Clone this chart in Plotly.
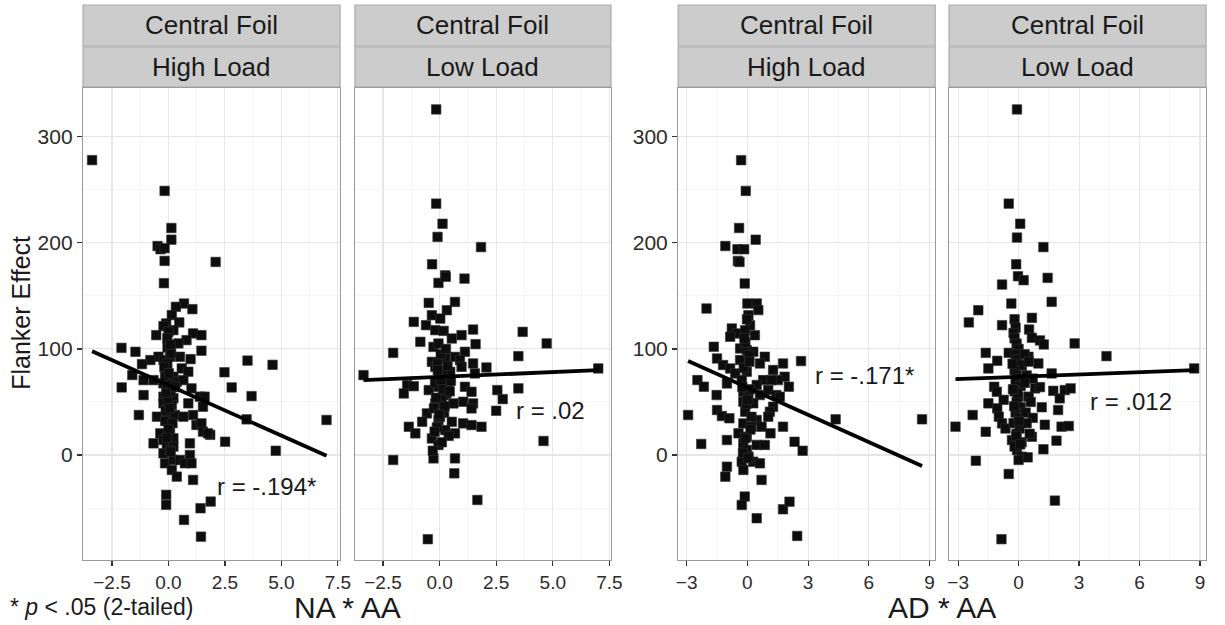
import plotly.graph_objects as go

# ---------------- data ----------------
strip_top = ["Central Foil", "Central Foil", "Central Foil", "Central Foil"]
strip_bottom = ["High Load", "Low Load", "High Load", "Low Load"]

# Panel 1: NA * AA, High Load
p1_x = [-3.38, -0.17, 0.13, 0.13, -0.48, -0.35, -0.17, -0.17, 2.09, -0.2, -2.08, -2.07, 3.5, 4.61,
        2.48, 2.8, 3.68, 3.46, 2.51, 4.75, 7.0, 1.44, 1.85,
        0.69, 0.33, 1.06, 0.15, 0.48, -0.1, -0.22, 0.22, -0.54, 0.0, 1.09, 1.46, 0.8, 0.44, 1.46, -1.46,
        -0.04, 0.51, -0.44, -0.8, -0.22, 0.07, 0.98, -1.17, 0.59, 0.88, -0.07, 0.22, -1.6, -1.1, -0.66,
        -0.22, 0.37, 0.66, 1.02, -0.07, -1.1, -0.22, 0.22, 1.39, 1.6, -0.22, 0.15, 0.88, 1.53, -1.31,
        -0.51, -0.07, 0.29, 0.66, 1.09, 1.24, 1.46, 1.53, 1.75, -0.36, 0.07, -0.22, 0.22, -0.66, -0.07,
        0.22, 0.95, -0.22, 0.07, -0.15, 0.22, 0.51, 0.73, 0.95, 1.02, 0.15, 0.37, 1.09, -0.1, -0.1,
        1.87, 1.42, 0.69, -0.05, 0.1, -0.12, 0.05, -0.15, 0.12,
        -0.05, 0.08, -0.18, 0.02, 0.12, -0.1, 0.3, -0.02, 0.06, -0.14, 0.18, 0.0, -0.08, 0.1]
p1_y = [278, 249, 214, 203, 197, 194, 195, 183, 182, 162, 101, 63.7, 89, 85,
        78, 63.7, 55.5, 33.6, 12.5, 4, 33, -77, 19,
        142.8, 139.7, 137.5, 131.9, 125, 124, 121.5, 117.7, 113, 116.2, 114.6, 113, 108.3, 105.2, 98.3, 97.3,
        101.4, 92.6, 92.6, 89.5, 89.5, 92.6, 90.4, 85.7, 81.6, 78.5, 80.1, 73.8, 75.4, 70.6, 70.6,
        67.5, 69.1, 70.6, 62.8, 61.2, 56.5, 55, 53.4, 55, 55, 48.7, 47.1, 48.7, 45.5, 37.7,
        36.1, 36.1, 37.7, 36.1, 37.7, 28.3, 29.8, 22, 20.4, 20.4, 20.4, 14.2, 15.7, 11, 9.5,
        7.9, 11, 1.6, 4.7, -7.8, -4.7, -4.7, -7.8, 0, -7.8, -14.1, -20.4, -23.5, -37.6, -47,
        -43.9, -50.2, -61.2, 86, 60, 42, 26, 74, 96,
        110, 104, 83, 77, 66, 58, 64, 50, 44, 32, 30, 24, 16, 3]

# Panel 2: NA * AA, Low Load
p2_x = [1.83, -0.33, 0.25, -0.05, 1.1, -0.48, 0.68, 0.32, -0.34, 0.03, -1.14, -0.6, -0.19, 0.18,
        0.54, 0.97, 1.48, -0.85, -0.27, -0.05, 1.59, 1.12, 0.68, 0.25, -0.34, 0.9, 1.48, 2.07, -0.19,
        0.47, 0.97, 1.56, -1.43, -1.14, -1.58, -0.48, -0.05, 0.39, 1.12, 1.41, 0.18, 0.61, 1.04, 1.48,
        1.41, -0.19, -0.56, -0.77, -1.36, -1.07, -0.05, 0.54, 1.04, 1.41, 1.85, 0.25, 0.68, -0.34, -0.05,
        -0.27, 0.68, 0.65, 1.67,
        -0.15, -0.15, 0.13, -0.09, 0.27, 3.67, 4.73, -2.05, 3.48, -3.36, 7.01, 3.48, 2.55, 2.79, 2.5,
        4.59, -2.05, -0.52, 0.05, -0.1, 0.12, 0.0, -0.2, 0.3, 0.1, -0.25, 0.2, 0.02, -0.12, 0.4, -0.3,
        -0.08, 0.06, 0.15, -0.16, 0.35, 0.5, 0.22, -0.02, 0.1, -0.22, 0.28, 0.45]
p2_y = [196, 179.8, 169.4, 162.2, 166.3, 143.4, 144.3, 136.5, 131.8, 128.6, 125.5, 122.4, 117.7, 117,
        109.8, 113, 118.3, 106.7, 101.9, 105.1, 104.5, 97.3, 92.5, 91, 87.8, 89.4, 86.3, 82.5, 83.1,
        78.4, 83.1, 76.9, 65.9, 64.9, 58, 61.2, 64.3, 67.4, 64.3, 59.6, 56.4, 48.6, 50.2, 48.6,
        43.9, 48.6, 39.2, 31.3, 26.6, 20.4, 32.9, 31.3, 29.8, 28.2, 26.6, 23.5, 20.4, 15.6, 9.4,
        -3.2, -3.2, -17.3, -42.4,
        325.8, 237, 218, 205.6, 168, 116.1, 105.2, 96.3, 93.2, 75.3, 81.6, 62.8, 61.2, 52.7, 41.7,
        13.2, -4.7, -79.4, 95, 86, 76, 72, 68, 58, 52, 44, 40, 36, 26, 18, 4,
        80, 70, 62, 54, 84, 70, 46, 38, 12, 22, 100, 60]

# Panel 3: AD * AA, High Load
p3_x = [-0.31, -0.08, -0.41, 0.41, -1.09, -0.49, -0.16, -0.47, -0.39, -2.93, 2.33, 2.73, 2.65, 4.36,
        8.63, 2.46,
        -0.13, -2.02, 0.0, 0.46, 0.54, 0.05, -0.77, -0.52, -0.85, 0.13, -0.11, 0.37, -0.36, -0.03, 0.29,
        -1.66, 0.86, -1.5, -1.2, -0.36, 0.62, 1.76, -0.85, -0.6, -0.03, 1.27, 1.84, 1.51, -2.47, -2.15,
        -1.01, -0.28, 0.78, 1.19, 2.05, 0.46, -1.52, -0.2, 0.05, 0.62, 1.03, 1.43, 1.6, -0.2, 0.29, 1.27,
        -1.5, -1.26, -0.89, -0.11, 1.11, 0.46, -0.2, 1.03, 1.76, 0.21, 0.7, -0.44, -0.03, 1.14, -1.01,
        -2.28, -0.2, 0.46, 0.86, -0.03, 0.05, -0.28, 0.29, 0.62, -1.01, -0.2, -1.09, 0.7, -0.13, -0.28,
        1.76, 2.08, 0.46, -0.1, 0.08, -0.18, 0.12, -0.05, 0.15, -0.22,
        -0.02, -0.15, 0.1, -0.25, 0.0, 0.2, -0.1, 0.05]
p3_y = [278, 249, 214, 203, 197, 194, 194, 183, 182, 37.7, 12.5, 4, 88.5, 33.6,
        33.6, -76.3,
        161.7, 138.1, 142.8, 142.8, 136.6, 131.8, 119.3, 114.6, 111.5, 122.4, 117.7, 113, 100.5, 98.9, 97.3,
        102, 92.6, 91, 84.8, 89.5, 86.3, 86.3, 81.6, 76.9, 78.5, 80.1, 73.8, 70.6, 70.6, 64.4,
        67.5, 70.6, 70.6, 70.6, 64.4, 66, 56.5, 59.6, 54.9, 56.5, 61.2, 56.5, 54.9, 50.2, 48.7, 45.5,
        42.4, 36.7, 34.6, 40.8, 40.8, 33, 29.8, 36.1, 26.7, 26.7, 26.7, 20.4, 17.3, 20.4, 14.1,
        10.4, 11, 9.5, 9.5, 4.7, -1.5, -6.3, -6.3, -7.9, -11, -14.1, -20.4, -23.5, -39.2, -47.1,
        -51.2, -44, -59.6, 106, 94, 82, 62, 48, 24, 2,
        128, 110, 88, 64, 52, 36, 16, -3]

# Panel 4: AD * AA, Low Load
p4_x = [-0.08, -0.49, 0.08, -0.08, 1.23, -0.12, -0.03, 0.25, 1.44, -0.82, 1.64, -0.36, -2.0, -2.47,
        -0.82, 0.66, -0.2, -0.15, -0.25, 0.52, 0.66, 1.06, 1.25, 2.78, 4.36, -1.63, -1.06, -1.5, -0.49,
        0.49, 0.98, 0.16, 8.71, 1.64,
        -1.21, -1.08, 0.82, 1.06, 1.72, 2.04, 2.29, 2.58, -1.5, -2.28, -1.06, -0.74, -0.98, 1.15, 1.96,
        -3.13, -1.63, -0.82, -0.65, -0.33, -0.08, 0.16, 0.45, 0.0, 0.66, 1.23, 1.3, 1.88, 2.13, 2.49,
        -2.12, -0.49, 1.8, -0.85,
        -0.2, -0.1, 0.0, -0.15, -0.05, 0.05, -0.2, -0.1, 0.0, -0.15, 0.1, -0.2, 0.0, -0.1, 0.1, -0.15,
        0.0, -0.25, 0.05, -0.1, 0.15, -0.2,
        0.3, 0.5, 0.4, 0.7, 0.3, 0.5, 0.6, 0.35, 0.7, 0.4, 0.55,
        -0.3, -0.05, -0.22, 0.02, -0.12, -0.28, 0.08]
p4_y = [325.8, 237, 218, 205, 196, 179.8, 168.5, 164.8, 167, 160.7, 144.4, 142.8, 136.5, 125,
        122.4, 129.3, 128, 120, 115, 118.3, 110.5, 108, 104.2, 105.2, 93.2, 96.3, 88.8, 81.6, 96.3,
        92.6, 86.3, 84, 81.6, 76.9,
        64.3, 59.6, 62.8, 64, 60.5, 53.4, 61.2, 62.8, 48.7, 37.7, 44, 52, 36.1, 45, 42.4,
        26.7, 21.9, 29.8, 25, 14.1, 4.7, -1.6, -2.2, -4.7, 17.2, 5.4, 28.5, 13.5, 26.7, 27.3,
        -5.4, -17.9, -43, -79.4,
        110, 105, 100, 95, 90, 85, 80, 75, 72, 68, 65, 60, 55, 50, 45, 40,
        35, 30, 25, 20, 12, 8,
        95, 88, 75, 72, 68, 55, 50, 40, 35, 30, 20,
        86, 58, 46, 32, 18, 62, 10]

# regression lines (intercept, slope)
fit_intercept = [65.8, 73.6, 63.6, 73.7]
fit_slope = [-9.5, 0.91, -8.57, 0.72]
r_labels = ["r = -.194*", "r = .02", "r = -.171*", "r = .012"]
r_label_pos = [(4.36, -30), (4.9, 42), (5.8, 75), (5.57, 50)]

x_titles = ["NA * AA", "AD * AA"]
y_title = "Flanker Effect"
footnote = "* <i>p</i> < .05 (2-tailed)"

y_ticks = [0, 100, 200, 300]
x_ticks_na = [-2.5, 0.0, 2.5, 5.0, 7.5]
x_ticks_ad = [-3, 0, 3, 6, 9]

# ---------------- layout geometry ----------------
W, H = 1225, 625
panel_px = [(82, 342), (357, 616), (684, 944), (958, 1218)]
plot_top, plot_bottom = 88, 560
x_ranges = [(-3.78, 7.6), (-3.74, 7.57), (-3.42, 9.28), (-3.45, 9.3)]
y_range = (-99, 346)


def fx(px):
    return min(1.0, max(0.0, px / W))


def fy(py):
    return min(1.0, max(0.0, 1 - py / H))


FONT = "Liberation Sans, Arial, Helvetica, sans-serif"
xs = [p1_x, p2_x, p3_x, p4_x]
ys = [p1_y, p2_y, p3_y, p4_y]

fig = go.Figure()
layout = dict(
    width=W, height=H,
    margin=dict(l=0, r=0, t=0, b=0),
    paper_bgcolor="white", plot_bgcolor="white",
    showlegend=False,
    font=dict(family=FONT, color="#1a1a1a"),
)

shapes = []
annotations = []
ydom = [fy(plot_bottom), fy(plot_top)]

for i in range(4):
    sx = "" if i == 0 else str(i + 1)
    xa, ya = "x" + sx, "y" + sx
    x0p, x1p = panel_px[i]
    xdom = [fx(x0p), fx(x1p)]
    na = i < 2
    ticks = x_ticks_na if na else x_ticks_ad
    step = 1.25 if na else 1.5
    layout["xaxis" + sx] = dict(
        domain=xdom, range=list(x_ranges[i]), anchor=ya,
        tickvals=ticks, ticktext=[(f"{t:.1f}" if na else f"{t:d}").replace("-", "\u2212") for t in ticks],
        ticks="outside", ticklen=5, tickwidth=1.2, tickcolor="#333",
        tickfont=dict(size=19, color="#2b2b2b", family=FONT),
        showgrid=True, gridcolor="#e6e6e6", gridwidth=1.1,
        minor=dict(showgrid=True, gridcolor="#f3f3f3", gridwidth=0.8,
                   tickvals=[t + step for t in ticks] + [ticks[0] - step]),
        showline=True, mirror=True, linecolor="#9a9a9a", linewidth=1.2,
        zeroline=False, fixedrange=True,
    )
    show_y = i in (0, 2)
    layout["yaxis" + sx] = dict(
        domain=ydom, range=list(y_range), anchor=xa,
        tickvals=y_ticks, showticklabels=show_y,
        ticks="outside" if show_y else "", ticklen=5, tickwidth=1.2, tickcolor="#333",
        tickfont=dict(size=21, color="#2b2b2b", family=FONT),
        showgrid=True, gridcolor="#e6e6e6", gridwidth=1.1,
        minor=dict(showgrid=True, gridcolor="#f3f3f3", gridwidth=0.8,
                   tickvals=[-50, 50, 150, 250]),
        showline=True, mirror=True, linecolor="#9a9a9a", linewidth=1.2,
        zeroline=False, fixedrange=True,
    )

    fig.add_trace(go.Scatter(
        x=xs[i], y=ys[i], mode="markers", xaxis=xa, yaxis=ya,
        marker=dict(symbol="square", size=9.5, color="#0d0d0d",
                    line=dict(color="#333", width=0.6)),
        hoverinfo="skip"))

    lx = [min(xs[i]), max(xs[i])]
    ly = [fit_intercept[i] + fit_slope[i] * v for v in lx]
    fig.add_trace(go.Scatter(
        x=lx, y=ly, mode="lines", xaxis=xa, yaxis=ya,
        line=dict(color="black", width=3.8), hoverinfo="skip"))

    annotations.append(dict(
        x=r_label_pos[i][0], y=r_label_pos[i][1], xref=xa, yref=ya,
        text=r_labels[i], showarrow=False,
        font=dict(size=24, color="#1a1a1a", family=FONT)))

    # strips
    for (t0, t1, label) in [(5, 46, strip_top[i]), (47, 87, strip_bottom[i])]:
        shapes.append(dict(type="rect", xref="paper", yref="paper",
                           x0=fx(x0p), x1=fx(x1p), y0=fy(t1), y1=fy(t0),
                           fillcolor="#cccccc", line=dict(color="#a9a9a9", width=1.2),
                           layer="below"))
        annotations.append(dict(
            x=fx((x0p + x1p) / 2), y=fy((t0 + t1) / 2), xref="paper", yref="paper",
            text=label, showarrow=False, xanchor="center", yanchor="middle",
            font=dict(size=26, color="#1a1a1a", family=FONT)))

# axis titles
annotations.append(dict(x=fx((82 + 616) / 2), y=fy(607), xref="paper", yref="paper",
                        text=x_titles[0], showarrow=False, xanchor="center", yanchor="middle",
                        font=dict(size=30, color="#1a1a1a", family=FONT)))
annotations.append(dict(x=fx((684 + 1218) / 2), y=fy(607), xref="paper", yref="paper",
                        text=x_titles[1], showarrow=False, xanchor="center", yanchor="middle",
                        font=dict(size=30, color="#1a1a1a", family=FONT)))
annotations.append(dict(x=fx(19), y=fy(313), xref="paper", yref="paper",
                        text=y_title, showarrow=False, textangle=-90,
                        xanchor="center", yanchor="middle",
                        font=dict(size=25, color="#1a1a1a", family=FONT)))
annotations.append(dict(x=fx(6), y=fy(607), xref="paper", yref="paper",
                        text=footnote, showarrow=False, xanchor="left", yanchor="middle",
                        font=dict(size=23, color="#1a1a1a", family=FONT)))

layout["shapes"] = shapes
layout["annotations"] = annotations
fig.update_layout(**layout)
fig.write_html(
    "out.html",
    config={"displayModeBar": False, "staticPlot": True},
    post_script="document.body.style.margin='0';document.body.style.overflow='hidden';",
)
